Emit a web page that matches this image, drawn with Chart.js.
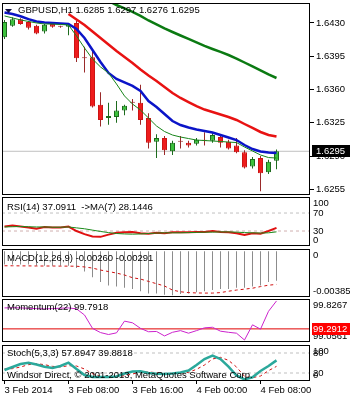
<!DOCTYPE html>
<html>
<head>
<meta charset="utf-8">
<script src="https://cdn.jsdelivr.net/npm/chart.js@4.4.1/dist/chart.umd.min.js"></script>
<style>
  html, body { margin: 0; padding: 0; background: #fff; }
  #wrap { position: relative; width: 350px; height: 400px; overflow: hidden; }
  #wrap canvas { position: absolute; left: 0; }
</style>
</head>
<body>
<div id="wrap">
  <canvas id="main" width="350" height="200" style="top:0px"></canvas>
  <canvas id="rsi" width="350" height="51" style="top:196px"></canvas>
  <canvas id="macd" width="350" height="50" style="top:248px"></canvas>
  <canvas id="mom" width="350" height="45" style="top:298px"></canvas>
  <canvas id="stoch" width="350" height="56" style="top:344px"></canvas>
</div>
<script>
// GBPUSD H1, 3 Feb 2014 00:00 .. 4 Feb 2014 10:00
const timeLabels = ['3 Feb 2014', '3 Feb 08:00', '3 Feb 16:00', '4 Feb 00:00', '4 Feb 08:00'];
const timeTicks = [0, 8, 16, 24, 32];

const opens  = [1.6415,1.6427,1.6434,1.6431,1.6427,1.6421,1.6429,1.6426,1.6426,1.6430,1.6393,1.6394,1.6344,1.6330,1.6331,1.6338,1.6346,1.6346,1.6330,1.6305,1.6309,1.6295,1.6305,1.6304,1.6303,1.6306,1.6306,1.6310,1.6305,1.6301,1.6294,1.6279,1.6288,1.6273,1.6285];
const highs  = [1.6433,1.6436,1.6435,1.6432,1.6428,1.6429,1.6430,1.6427,1.6430,1.6432,1.6405,1.6402,1.6357,1.6346,1.6348,1.6344,1.6350,1.6365,1.6335,1.6313,1.6311,1.6306,1.6311,1.6306,1.6309,1.6315,1.6314,1.6313,1.6307,1.6309,1.6296,1.6289,1.6290,1.6286,1.6297];
const lows   = [1.6413,1.6426,1.6428,1.6423,1.6418,1.6419,1.6425,1.6425,1.6417,1.6389,1.6378,1.6341,1.6321,1.6323,1.6325,1.6333,1.6338,1.6323,1.6298,1.6288,1.6291,1.6291,1.6298,1.6299,1.6301,1.6301,1.6304,1.6299,1.6297,1.6293,1.6277,1.6277,1.6253,1.6271,1.6276];
const closes = [1.6431,1.6434,1.6429,1.6425,1.6419,1.6428,1.6426,1.6426,1.6429,1.6393,1.6393,1.6342,1.6328,1.6332,1.6338,1.6343,1.6346,1.6328,1.6304,1.6309,1.6296,1.6304,1.6305,1.6301,1.6307,1.6306,1.6312,1.6304,1.6298,1.6294,1.6278,1.6287,1.6272,1.6284,1.6295];

// moving averages on the price window
const maFast = [1.64374,1.64353,1.64332,1.64316,1.64300,1.64289,1.64289,1.64284,1.64279,1.64163,1.64037,1.63921,1.63837,1.63774,1.63658,1.63532,1.63447,1.63384,1.63300,1.63216,1.63158,1.63121,1.63100,1.63084,1.63068,1.63063,1.63058,1.63053,1.63047,1.63042,1.62995,1.62953,1.62911,1.62884,1.62879];
const maBlue = [1.64410,1.64395,1.64370,1.64340,1.64316,1.64305,1.64300,1.64295,1.64290,1.64237,1.64142,1.64016,1.63889,1.63774,1.63711,1.63674,1.63637,1.63584,1.63479,1.63416,1.63342,1.63268,1.63226,1.63200,1.63179,1.63163,1.63147,1.63121,1.63095,1.63068,1.63016,1.62974,1.62947,1.62937,1.62932];
const maRed  = [null,null,null,null,null,null,null,null,1.64395,1.64337,1.64279,1.64211,1.64142,1.64074,1.64005,1.63942,1.63879,1.63811,1.63747,1.63689,1.63626,1.63563,1.63511,1.63468,1.63426,1.63389,1.63363,1.63337,1.63311,1.63279,1.63237,1.63195,1.63153,1.63121,1.63105];
const maSlow = [null,null,null,null,null,null,null,null,null,null,1.64668,1.64616,1.64574,1.64532,1.64489,1.64453,1.64416,1.64374,1.64326,1.64284,1.64242,1.64205,1.64168,1.64132,1.64095,1.64058,1.64026,1.63995,1.63963,1.63926,1.63884,1.63842,1.63800,1.63758,1.63721];
const priceTicks = [1.6430, 1.6395, 1.6360, 1.6325, 1.6290, 1.6255];

// RSI(14) and its MA(7)
const rsi   = [40,42,40,38,35,39,38,38,40,30,23,18,17,22,26,27,28,25,24,26,25,27,27,27,28,28,30,28,27,25,21,25,24,30,37.0911];
const rsiMa = [39,39.5,40,39.5,39,39,38.5,38.5,39,37,35,32,29,26.5,24.5,23.5,23,23.5,24.5,25.5,26,26,26,26.5,27,27.5,27.5,28,28,27.5,26.5,26,25.5,26,28.1446];
const rsiLevels = [70, 30];
const rsiTicks = [100, 70, 30, 0];

// MACD(12,26,9)
const macdMain   = [-0.0012,-0.0012,-0.0012,-0.0012,-0.0013,-0.0013,-0.0013,-0.0013,-0.0013,-0.0015,-0.0018,-0.0023,-0.0027,-0.0030,-0.0031,-0.0032,-0.0033,-0.0035,-0.0037,-0.0037,-0.0038,-0.00385,-0.00375,-0.0037,-0.0036,-0.0035,-0.0034,-0.0033,-0.0033,-0.0032,-0.0032,-0.0031,-0.0030,-0.0027,-0.0026];
const macdSignal = [-0.00130,-0.00130,-0.00131,-0.00131,-0.00132,-0.00132,-0.00132,-0.00133,-0.00133,-0.00134,-0.00140,-0.00150,-0.00167,-0.00180,-0.00193,-0.00210,-0.00233,-0.00245,-0.00265,-0.00285,-0.00305,-0.00340,-0.00355,-0.00362,-0.00365,-0.00366,-0.00366,-0.00362,-0.00350,-0.00340,-0.00332,-0.00324,-0.00310,-0.00298,-0.00291];
const macdTicks = [0, -0.00385];

// Momentum(22)
const momentum = [99.667,99.670,99.667,99.660,99.655,99.649,99.655,99.662,99.667,99.650,99.540,99.300,99.225,99.190,99.220,99.430,99.400,99.300,99.240,99.245,99.165,99.230,99.260,99.214,99.260,99.310,99.320,99.250,99.230,99.214,99.092,99.364,99.286,99.606,99.7918];
const momLine = 99.2912;
const momTicks = [99.8267, 99.0561];

// Stochastic(5,3,3)
const stochMain   = [29,38,47,51,45.5,39,35,41,51,32,14,8,8,8,9.5,18.5,24.5,25,20,17.6,17,18.5,21.5,27.5,44,62,72,62,39,12.5,1,7,26,41,57.8947];
const stochSignal = [32,33,38,45,48,45,40,38,42,41,32,18,10,8,8.5,12,17,23,23,21,18,18,19,22,31,44,62,67,58,38,10,6,11,27,39.8818];
const stochLevels = [80, 20];
const stochTicks = [100, 80, 20, 0];

const FONT = '"Liberation Sans", Arial, sans-serif';
const FSIZE = 9.5;
const X_MIN = -0.3125, X_MAX = 38.1875;
const last = closes.length - 1;

const pts = arr => arr.map((v, i) => ({ x: i, y: v }));
const level = v => [{ x: X_MIN, y: v }, { x: X_MAX, y: v }];
const lineDs = (data, color, width, order, dash) => ({
  type: 'line', data, borderColor: color, borderWidth: width, order,
  borderDash: dash || [], pointRadius: 0, tension: 0, fill: false
});

// frame, axis labels, window captions and the price tags
const panelDecor = {
  id: 'panelDecor',
  afterDraw(chart, args, o) {
    const { ctx, chartArea: a } = chart;
    const y = chart.scales.y;
    ctx.save();
    ctx.strokeStyle = '#000';
    ctx.lineWidth = 1;
    ctx.strokeRect(a.left + 0.5, a.top + 0.5, a.right - a.left - 1, a.bottom - a.top - 1);
    ctx.font = FSIZE + 'px ' + FONT;
    ctx.textBaseline = 'middle';
    ctx.textAlign = 'left';
    ctx.fillStyle = '#000';
    const lx = a.right + (o.labelGap || 3);
    (o.labels || []).forEach(l => {
      let py = y.getPixelForValue(l.value);
      py = Math.min(Math.max(py, a.top + 6), a.bottom - 6);
      ctx.fillText(l.text, lx, py);
    });
    (o.titles || []).forEach(t => ctx.fillText(t.text, a.left + t.dx, a.top + t.dy));
    if (o.marker) {
      ctx.fillStyle = '#101040';
      ctx.beginPath();
      ctx.moveTo(a.left + 3, a.top + 6);
      ctx.lineTo(a.left + 10, a.top + 6);
      ctx.lineTo(a.left + 6.5, a.top + 10);
      ctx.closePath();
      ctx.fill();
    }
    if (o.tag) {
      const py = Math.round(y.getPixelForValue(o.tag.value));
      ctx.fillStyle = o.tag.bg;
      ctx.fillRect(a.right + 2, py - 6, chart.width - a.right - 2, 12);
      ctx.fillStyle = '#fff';
      ctx.fillText(o.tag.text, lx, py);
    }
    ctx.restore();
  }
};

function makeChart(id, c) {
  const xAxis = {
    type: 'linear', min: X_MIN, max: X_MAX, offset: false,
    display: !!c.timeAxis,
    grid: { offset: false, drawOnChartArea: false, drawTicks: true, tickLength: 3, color: '#000' },
    border: { display: false },
    afterBuildTicks: s => { s.ticks = timeTicks.map(v => ({ value: v })); },
    ticks: {
      autoSkip: false, maxRotation: 0, minRotation: 0, align: 'start', padding: 1,
      color: '#000', font: { size: FSIZE, family: FONT },
      callback: v => timeLabels[timeTicks.indexOf(v)]
    }
  };
  if (c.timeAxis) xAxis.afterFit = s => { s.height = 19; };
  return new Chart(document.getElementById(id), {
    type: 'line',
    data: { datasets: c.datasets },
    options: {
      responsive: false,
      animation: false,
      events: [],
      layout: { padding: { left: 2, right: 0, top: c.pad[0], bottom: c.pad[1] } },
      plugins: {
        legend: { display: false },
        tooltip: { enabled: false },
        panelDecor: { labels: c.labels, titles: c.titles, tag: c.tag, marker: c.marker, labelGap: c.labelGap }
      },
      scales: {
        x: xAxis,
        y: {
          position: 'right', min: c.yMin, max: c.yMax, beginAtZero: false,
          afterBuildTicks: s => { s.ticks = c.yTicks.map(v => ({ value: v })); },
          afterFit: s => { s.width = 40; },
          ticks: { display: false },
          grid: { drawOnChartArea: false, drawTicks: !!c.marks, tickLength: 4, color: '#000' },
          border: { display: false }
        }
      }
    },
    plugins: [panelDecor]
  });
}

// candles: body from open to close, wick from low to high
const BULL_FILL = '#3cc13c', BULL_EDGE = '#1d6b1d';
const BEAR_FILL = '#ee1c1c', BEAR_EDGE = '#cc1414';
const DOJI = '#9a2a2a';
const dir = closes.map((c, i) => Math.sign(c - opens[i]));
const bodyFill = dir.map(d => d > 0 ? BULL_FILL : d < 0 ? BEAR_FILL : DOJI);
const bodyEdge = dir.map(d => d > 0 ? BULL_EDGE : d < 0 ? BEAR_EDGE : DOJI);
const wickColor = dir.map(d => d > 0 ? BULL_EDGE : '#9a2a2a');

makeChart('main', {
  pad: [3, 5], yMin: 1.6249, yMax: 1.6451, yTicks: priceTicks, marks: true, marker: true, labelGap: 6,
  labels: priceTicks.map(v => ({ value: v, text: v.toFixed(4) })),
  titles: [{ text: 'GBPUSD,H1 ' + [opens[last], highs[last], lows[last], closes[last]].map(v => v.toFixed(4)).join(' '), dx: 16, dy: 7.5 }],
  tag: { value: closes[last], text: closes[last].toFixed(4), bg: '#000' },
  datasets: [
    lineDs(pts(maFast), '#17851a', 1, 1),
    lineDs(pts(maBlue), '#0b14c8', 2.5, 2),
    lineDs(pts(maRed), '#e81212', 2.5, 3),
    lineDs(pts(maSlow), '#0b7a12', 2.5, 4),
    {
      type: 'bar', data: closes.map((c, i) => ({ x: i, y: [opens[i], c] })),
      backgroundColor: bodyFill, borderColor: bodyEdge, borderWidth: 1, borderSkipped: false,
      barThickness: 5, minBarLength: 1, grouped: false, inflateAmount: 0, order: 6
    },
    {
      type: 'bar', data: lows.map((l, i) => ({ x: i, y: [l, highs[i]] })),
      backgroundColor: wickColor, borderWidth: 0,
      barThickness: 1, grouped: false, inflateAmount: 0, order: 7
    },
    lineDs(level(closes[last]), '#c0c0c0', 1, 8)
  ]
});

makeChart('rsi', {
  pad: [1, 1], yMin: -3.3, yMax: 105.6, yTicks: rsiTicks,
  labels: rsiTicks.map(v => ({ value: v, text: String(v) })),
  titles: [{ text: 'RSI(14) ' + rsi[last].toFixed(4) + '  ->MA(7) ' + rsiMa[last].toFixed(4), dx: 5, dy: 10.5 }],
  datasets: [
    lineDs(pts(rsiMa), '#1a8a1a', 1, 1),
    lineDs(pts(rsi), '#e01010', 2, 2),
    lineDs(level(rsiLevels[0]), '#c0c0c0', 1, 3, [3, 3]),
    lineDs(level(rsiLevels[1]), '#d0b0b0', 1, 3, [3, 3])
  ]
});

makeChart('macd', {
  pad: [1, 1], yMin: -0.0040, yMax: 0.00015, yTicks: macdTicks,
  labels: macdTicks.map(v => ({ value: v, text: String(v) })),
  titles: [{ text: 'MACD(12,26,9) ' + macdMain[last].toFixed(5) + ' ' + macdSignal[last].toFixed(5), dx: 5, dy: 9 }],
  datasets: [
    lineDs(pts(macdSignal), '#d01010', 1, 1, [3, 3]),
    {
      type: 'bar', data: pts(macdMain), backgroundColor: '#8c8c8c', borderWidth: 0,
      barThickness: 1, grouped: false, inflateAmount: 0, order: 2
    }
  ]
});

makeChart('mom', {
  pad: [1, 1], yMin: 99.0561, yMax: 99.8267, yTicks: momTicks,
  labels: momTicks.map(v => ({ value: v, text: v.toFixed(4) })),
  titles: [{ text: 'Momentum(22) ' + momentum[last].toFixed(4), dx: 5, dy: 8 }],
  tag: { value: momLine, text: momLine.toFixed(4), bg: '#ff0000' },
  datasets: [
    lineDs(pts(momentum), '#cc22cc', 1, 1),
    lineDs(level(momLine), '#e00000', 1, 2)
  ]
});

makeChart('stoch', {
  pad: [1, 0], yMin: -4, yMax: 104, yTicks: stochTicks, timeAxis: true,
  labels: stochTicks.map(v => ({ value: v, text: String(v) })),
  titles: [
    { text: 'Stoch(5,3,3) ' + stochMain[last].toFixed(4) + ' ' + stochSignal[last].toFixed(4), dx: 5, dy: 8.5 },
    { text: 'Windsor Direct, \u00a9 2001-2013, MetaQuotes Software Corp.', dx: 5, dy: 30.5 }
  ],
  datasets: [
    lineDs(pts(stochMain), '#2ba89b', 2.5, 1),
    lineDs(pts(stochSignal), '#d01010', 1, 2, [3, 3]),
    lineDs(level(stochLevels[0]), '#c0c0c0', 1, 3, [3, 3]),
    lineDs(level(stochLevels[1]), '#c0c0c0', 1, 3, [3, 3])
  ]
});
</script>
</body>
</html>
